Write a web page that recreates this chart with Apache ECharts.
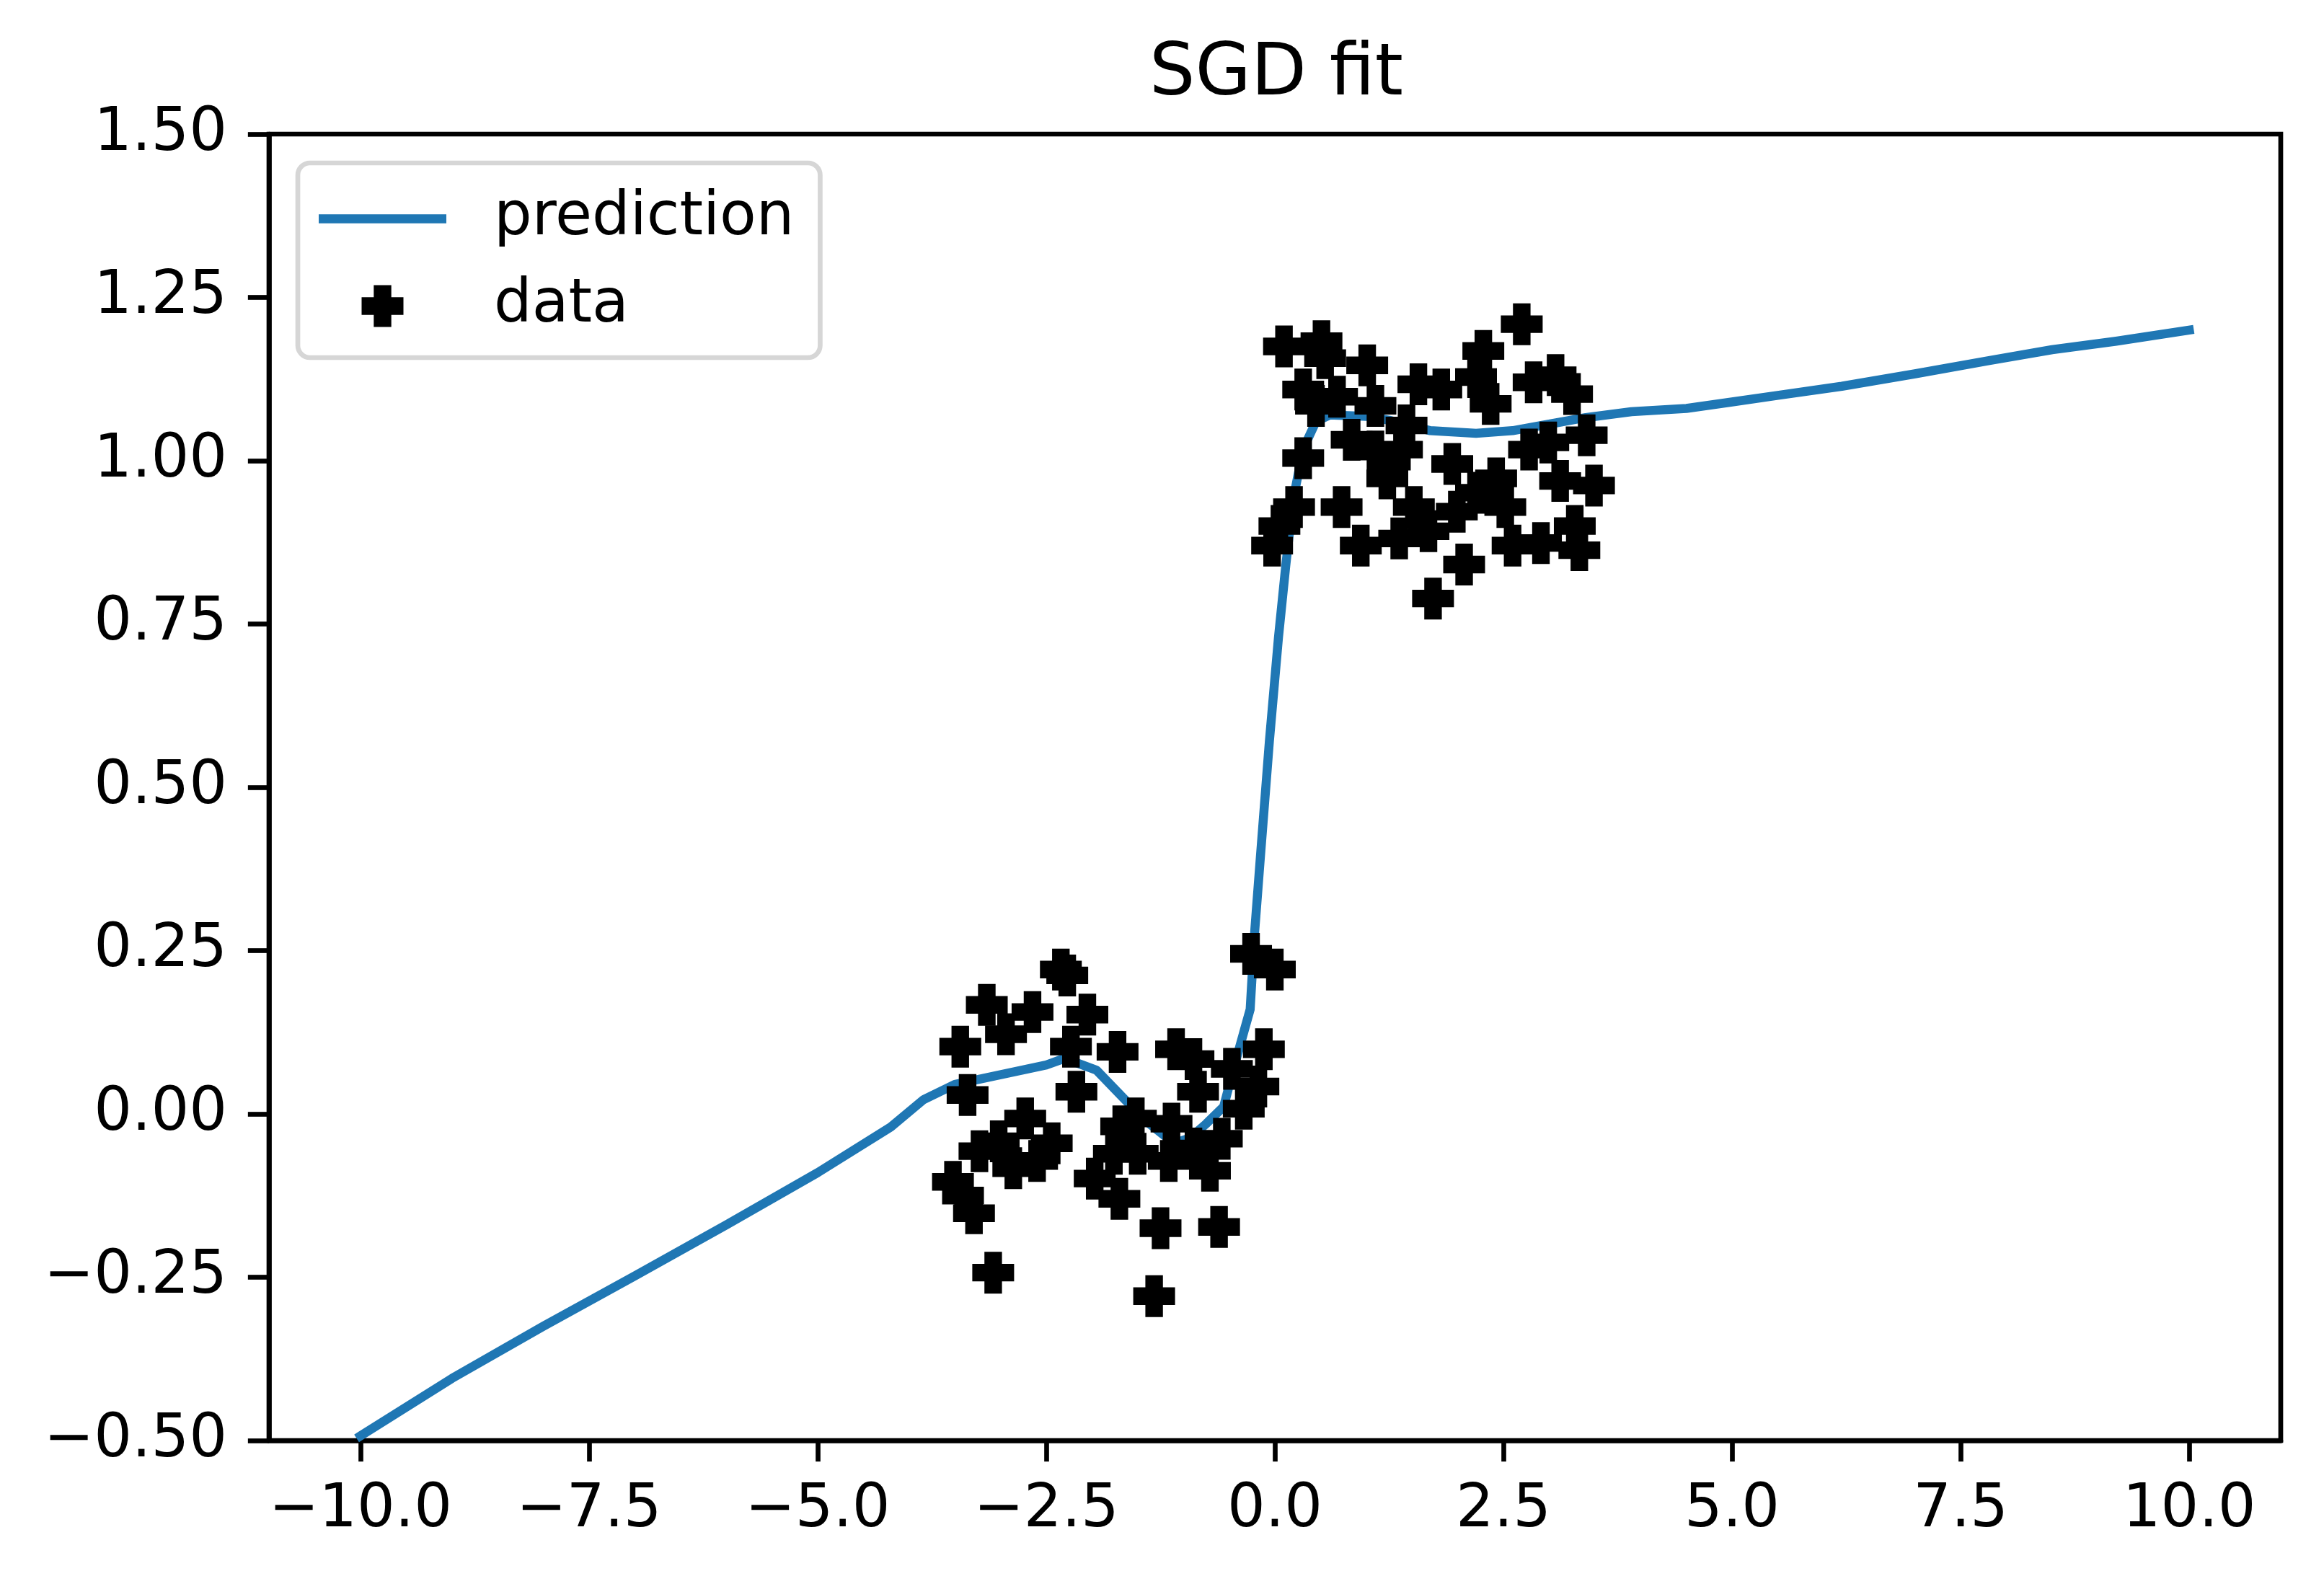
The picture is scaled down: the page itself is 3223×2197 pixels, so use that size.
<!DOCTYPE html>
<html>
<head>
<meta charset="utf-8">
<title>SGD fit</title>
<script src="https://cdn.jsdelivr.net/npm/echarts@6/dist/echarts.min.js"></script>
<style>
  html, body { margin: 0; padding: 0; background: #fff; }
  #chart { width: 3223px; height: 2197px; }
</style>
</head>
<body>
<div id="chart"></div>
<script>
// prediction curve (x, y)
const predX = [-10, -9, -8, -7, -6, -5, -4.2, -3.84, -3.5, -3.0, -2.5, -2.3, -1.95, -1.64, -1.4, -1.1,
  -0.93, -0.75, -0.56, -0.45, -0.35, -0.27, -0.22, -0.16, -0.06, 0.04, 0.12, 0.2, 0.27, 0.35,
  0.45, 0.6, 1.0, 1.25, 1.7, 2.2, 2.6, 3.0, 3.4, 3.9, 4.5, 5.0, 5.5, 6.2, 7.0, 7.8, 8.5, 9.2, 10];
const predY = [-0.493, -0.405, -0.325, -0.248, -0.17, -0.09, -0.02, 0.022, 0.045, 0.06, 0.075, 0.085, 0.067, 0.022, -0.012, -0.045,
  -0.037, -0.015, 0.011, 0.07, 0.12, 0.16, 0.28, 0.39, 0.57, 0.73, 0.84, 0.94, 0.99, 1.03,
  1.06, 1.07, 1.068, 1.062, 1.046, 1.042, 1.046, 1.056, 1.066, 1.075, 1.08, 1.09, 1.1, 1.114, 1.133, 1.153, 1.17, 1.183, 1.2];

// data points
const dataX = [
  -2.34, -2.27, -3.15, -2.94, -2.65, -3.44, -2.05, -2.23, -1.72, -2.17, -3.36,
  -2.73, -3.23, -2.44, -2.86, -3.02, -2.6, -3.52, -3.41, -3.29, -3.08,
  -1.97, -1.70, -1.68, -1.76,
  -0.26, 0.0, -0.12, -1.08, -0.89, -1.52, -1.13, -0.84, -0.47, -0.18, -0.34,
  -0.58, -0.71, -1.16, -1.5, -0.89, -1.25, -0.61, -1.32,
  0.10, 0.51, 0.55, 0.31, 0.68, 0.45, 1.01, 1.1, 1.57, 1.44, 0.84, 1.1, 1.39, 1.23,
  0.31, 0.21, 0.05, -0.03, 0.73, 0.94, 1.52, 1.36, 1.68, 1.73,
  2.7, 2.28, 2.2, 2.36, 1.82, 2.83, 3.07, 3.25, 3.41, 2.78, 2.99, 3.12, 3.49,
  1.94, 2.42, 2.52, 1.99, 2.2, 2.6, 2.91, 3.28, 3.33, 2.07
];
const dataY = [
  0.221, 0.212, 0.167, 0.122, 0.156, 0.103, 0.152, 0.103, 0.095, 0.034, 0.029,
  -0.007, -0.057, -0.045, -0.083, -0.042, -0.072, -0.104, -0.125, -0.152, -0.243,
  -0.099, -0.13, -0.019, -0.061,
  0.245, 0.221, 0.099, 0.099, 0.084, -0.007, -0.015, 0.034, 0.069, 0.042, 0.008,
  -0.038, -0.087, -0.072, -0.061, -0.053, -0.175, -0.173, -0.279,
  1.175, 1.183, 1.157, 1.109, 1.098, 1.084, 1.146, 1.084, 1.117, 1.054, 1.032, 1.014, 1.017, 0.973,
  1.004, 0.929, 0.9, 0.87, 0.929, 0.87, 0.929, 0.881, 0.892, 0.789,
  1.209, 1.168, 1.128, 1.087, 1.109, 1.12, 1.131, 1.102, 1.039, 1.017, 1.028, 0.969, 0.962,
  0.995, 0.973, 0.929, 0.922, 0.951, 0.87, 0.874, 0.9, 0.863, 0.841
];

const xTicks = [-10, -7.5, -5, -2.5, 0, 2.5, 5, 7.5, 10];
const yTicks = [-0.5, -0.25, 0, 0.25, 0.5, 0.75, 1.0, 1.25, 1.5];

const FONT = 'DejaVu Sans';
const PT = 600 / 72;          // pixels per point
const SPINE = 0.8 * PT;

function minus(s) { return s.replace('-', '\u2212'); }

const plusPath = 'path://M29 0 L71 0 L71 29 L100 29 L100 71 L71 71 L71 100 L29 100 L29 71 L0 71 L0 29 L29 29 Z';
const linePath = 'path://M0 0 L177 0 Z M0 22.75 L177 22.75 L177 35.25 L0 35.25 Z M0 58 L177 58 Z';

const chart = echarts.init(document.getElementById('chart'), null, { renderer: 'canvas' });

const option = {
  animation: false,
  backgroundColor: '#fff',
  title: {
    text: 'SGD fit',
    left: 1765,
    top: 50,
    textAlign: 'center',
    textStyle: { fontFamily: FONT, fontSize: 100, fontWeight: 'normal', color: '#000' }
  },
  grid: {
    left: 373, top: 186, width: 2790, height: 1812,
    show: true, borderColor: '#000', borderWidth: SPINE, backgroundColor: '#fff'
  },
  legend: {
    orient: 'vertical',
    left: 413, top: 226,
    padding: [36, 36, 30, 29],
    itemWidth: 177, itemHeight: 58, itemGap: 38,
    symbolKeepAspect: true,
    selectedMode: false,
    backgroundColor: 'rgba(255,255,255,0.8)',
    borderColor: '#d6d6d6', borderWidth: SPINE, borderRadius: 17,
    itemStyle: { borderWidth: 0 },
    textStyle: { fontFamily: FONT, fontSize: 83, color: '#000', lineHeight: 83, padding: [0, 0, 0, 61] },
    data: [
      { name: 'prediction', icon: linePath },
      { name: 'data', icon: plusPath }
    ]
  },
  xAxis: {
    type: 'value', min: -11, max: 11,
    axisLine: { show: true, onZero: false, lineStyle: { color: '#000', width: SPINE } },
    axisTick: { show: true, length: 3.5 * PT, customValues: xTicks, lineStyle: { color: '#000', width: SPINE } },
    axisLabel: {
      customValues: xTicks, margin: 56,
      fontFamily: FONT, fontSize: 83, color: '#000',
      formatter: v => minus(v.toFixed(1))
    },
    splitLine: { show: false }
  },
  yAxis: {
    type: 'value', min: -0.5, max: 1.5, interval: 0.25,
    axisLine: { show: true, onZero: false, lineStyle: { color: '#000', width: SPINE } },
    axisTick: { show: true, length: 3.5 * PT, lineStyle: { color: '#000', width: SPINE } },
    axisLabel: {
      margin: 58,
      padding: [12, 0, 0, 0],
      fontFamily: FONT, fontSize: 83, color: '#000',
      formatter: v => minus(v.toFixed(2))
    },
    splitLine: { show: false }
  },
  series: [
    {
      name: 'prediction',
      type: 'line',
      symbol: 'none',
      z: 2,
      color: '#1f77b4',
      lineStyle: { color: '#1f77b4', width: 1.5 * PT, cap: 'square', join: 'round' },
      data: predX.map((x, i) => [x, predY[i]])
    },
    {
      name: 'data',
      type: 'scatter',
      symbol: plusPath,
      symbolSize: 58,
      z: 3,
      color: '#000',
      itemStyle: { color: '#000', opacity: 1 },
      data: dataX.map((x, i) => [x, dataY[i]])
    }
  ]
};

chart.setOption(option);
</script>
</body>
</html>
